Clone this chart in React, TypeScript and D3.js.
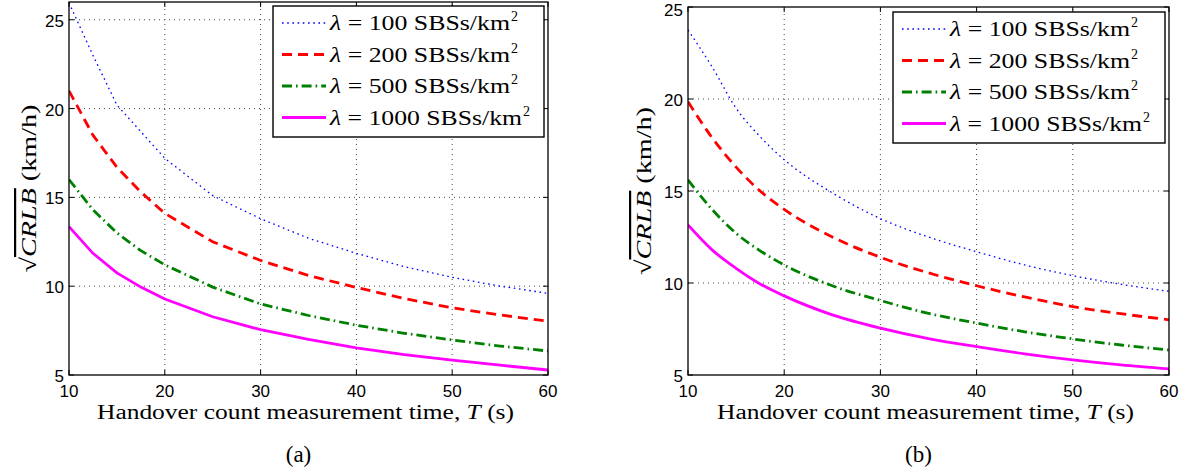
import React from "react";
import * as d3 from "d3";

const T = [10, 12.5, 15, 17.5, 20, 25, 30, 35, 40, 45, 50, 55, 60];
const seriesNames = ["100", "200", "500", "1000"];

const left100 = [25.95, 23.0, 20.2, 18.7, 17.2, 15.1, 13.8, 12.7, 11.85, 11.1, 10.5, 10.0, 9.6];
const left200 = [21.0, 18.5, 16.7, 15.3, 14.1, 12.5, 11.45, 10.6, 9.93, 9.3, 8.78, 8.38, 8.03];
const left500 = [16.0, 14.3, 13.0, 12.0, 11.2, 9.95, 9.0, 8.35, 7.8, 7.35, 6.97, 6.63, 6.35];
const left1000 = [13.35, 11.85, 10.75, 9.95, 9.28, 8.28, 7.55, 7.0, 6.53, 6.15, 5.84, 5.55, 5.28];

const right100 = [23.75, 21.75, 19.5, 17.95, 16.7, 14.9, 13.5, 12.5, 11.7, 10.98, 10.4, 9.93, 9.55];
const right200 = [19.85, 17.9, 16.3, 15.0, 14.0, 12.5, 11.4, 10.55, 9.85, 9.24, 8.72, 8.33, 8.0];
const right500 = [15.6, 14.0, 12.7, 11.75, 10.98, 9.85, 9.05, 8.35, 7.82, 7.35, 6.96, 6.63, 6.36];
const right1000 = [13.15, 11.8, 10.8, 9.95, 9.3, 8.27, 7.55, 6.98, 6.54, 6.15, 5.82, 5.55, 5.33];

const xTicks = [10, 20, 30, 40, 50, 60];
const yTicks = [5, 10, 15, 20, 25];
const xLabel = "Handover count measurement time, ";

const styles = [
  { color: "#0000ff", width: 1.3, dash: "1.6,3.6" },
  { color: "#ff0000", width: 2.8, dash: "10,6" },
  { color: "#008000", width: 2.8, dash: "10,4,1.6,4" },
  { color: "#ff00ff", width: 2.8, dash: null as string | null },
];

const panels = [
  {
    id: "a",
    data: [left100, left200, left500, left1000],
    xRange: [69, 548],
    yRange: [375, 2],
    yDomain: [5, 26],
    legend: { x: 273, y: 6, w: 271, h: 131 },
    yLabelGap: 33,
    curve: d3.curveLinear,
  },
  {
    id: "b",
    data: [right100, right200, right500, right1000],
    xRange: [688, 1169],
    yRange: [375, 7],
    yDomain: [5, 25],
    legend: { x: 893, y: 12, w: 272, h: 131 },
    yLabelGap: 37,
    curve: d3.curveMonotoneX,
  },
];

const SANS = "'Liberation Sans', Arial, sans-serif";
const SERIF = "'Liberation Serif', 'DejaVu Serif', serif";

function Panel({ p }: { p: (typeof panels)[number] }) {
  const x = d3.scaleLinear().domain([10, 60]).range(p.xRange);
  const y = d3.scaleLinear().domain(p.yDomain).range(p.yRange);
  const [x0, x1] = p.xRange;
  const [yb, yt] = p.yRange;
  const clipId = "clip-" + p.id;
  const tl = 5;
  const cx = (x0 + x1) / 2;
  const cy = (yb + yt) / 2;
  return (
    <g>
      <defs>
        <clipPath id={clipId}>
          <rect x={x0} y={yt} width={x1 - x0} height={yb - yt} />
        </clipPath>
      </defs>
      {xTicks.filter((t) => t !== 10 && t !== 60).map((t) => (
        <line key={"gx" + t} x1={x(t)} x2={x(t)} y1={yb} y2={yt} stroke="#444" strokeWidth={1} strokeDasharray="1,4" />
      ))}
      {yTicks.filter((t) => t > p.yDomain[0] && t < p.yDomain[1]).map((t) => (
        <line key={"gy" + t} x1={x0} x2={x1} y1={y(t)} y2={y(t)} stroke="#444" strokeWidth={1} strokeDasharray="1,4" />
      ))}
      {xTicks.map((t) => (
        <g key={"tx" + t}>
          <line x1={x(t)} x2={x(t)} y1={yb} y2={yb - tl} stroke="#000" />
          <line x1={x(t)} x2={x(t)} y1={yt} y2={yt + tl} stroke="#000" />
          <text x={x(t)} y={397} textAnchor="middle" fontFamily={SANS} fontSize={17}>{t}</text>
        </g>
      ))}
      {yTicks.map((t) => (
        <g key={"ty" + t}>
          <line x1={x0} x2={x0 + tl} y1={y(t)} y2={y(t)} stroke="#000" />
          <line x1={x1} x2={x1 - tl} y1={y(t)} y2={y(t)} stroke="#000" />
          <text x={x0 - 5} y={Math.max(y(t) + 7, 16)} textAnchor="end" fontFamily={SANS} fontSize={17}>{t}</text>
        </g>
      ))}
      <g clipPath={`url(#${clipId})`}>
        {p.data.map((vals, i) => {
          const line = d3
            .line<number>()
            .x((_, j) => x(T[j]))
            .y((v) => y(v))
            .curve(p.curve);
          return (
            <path
              key={"s" + i}
              d={line(vals) || ""}
              fill="none"
              stroke={styles[i].color}
              strokeWidth={styles[i].width}
              strokeDasharray={styles[i].dash || undefined}
            />
          );
        })}
      </g>
      <rect x={x0} y={yt} width={x1 - x0} height={yb - yt} fill="none" stroke="#000" strokeWidth={1.3} />
      <rect x={p.legend.x} y={p.legend.y} width={p.legend.w} height={p.legend.h} fill="#fff" stroke="#000" strokeWidth={1.4} />
      {seriesNames.map((n, i) => {
        const ly = p.legend.y + 17 + i * 31.5;
        const tw = 180 + (n.length - 3) * 12;
        return (
          <g key={"l" + i}>
            <line
              x1={p.legend.x + 9}
              x2={p.legend.x + 53}
              y1={ly}
              y2={ly}
              stroke={styles[i].color}
              strokeWidth={styles[i].width}
              strokeDasharray={styles[i].dash || undefined}
            />
            <text
              x={p.legend.x + 57}
              y={ly + 7}
              fontFamily={SERIF}
              fontSize={21}
              xmlSpace="preserve"
              textLength={tw}
              lengthAdjust="spacingAndGlyphs"
            >
              <tspan fontStyle="italic">λ</tspan>
              <tspan> = {n} SBSs/km</tspan>
            </text>
            <text x={p.legend.x + 58 + tw} y={ly - 2} fontFamily={SERIF} fontSize={14}>2</text>
          </g>
        );
      })}
      <text
        x={cx - 3}
        y={419}
        textAnchor="middle"
        fontFamily={SERIF}
        fontSize={20}
        textLength={417}
        lengthAdjust="spacingAndGlyphs"
      >
        {xLabel}
        <tspan fontStyle="italic">T</tspan> (s)
      </text>
      <text x={cx - 10} y={462} textAnchor="middle" fontFamily={SERIF} fontSize={23}>
        ({p.id})
      </text>
      <text
        transform={`translate(${x0 - p.yLabelGap},${cy}) rotate(-90)`}
        textAnchor="middle"
        fontFamily={SERIF}
        fontSize={22}
        textLength={168}
        lengthAdjust="spacingAndGlyphs"
      >
        <tspan>√</tspan>
        <tspan fontStyle="italic" textDecoration="overline">CRLB</tspan>
        <tspan> (km/h)</tspan>
      </text>
    </g>
  );
}

export default function App() {
  return (
    <svg
      width={1189}
      height={474}
      style={{ position: "absolute", left: 0, top: 0, background: "#fff" }}
    >
      <rect width={1189} height={474} fill="#fff" />
      {panels.map((p) => (
        <Panel key={p.id} p={p} />
      ))}
    </svg>
  );
}
